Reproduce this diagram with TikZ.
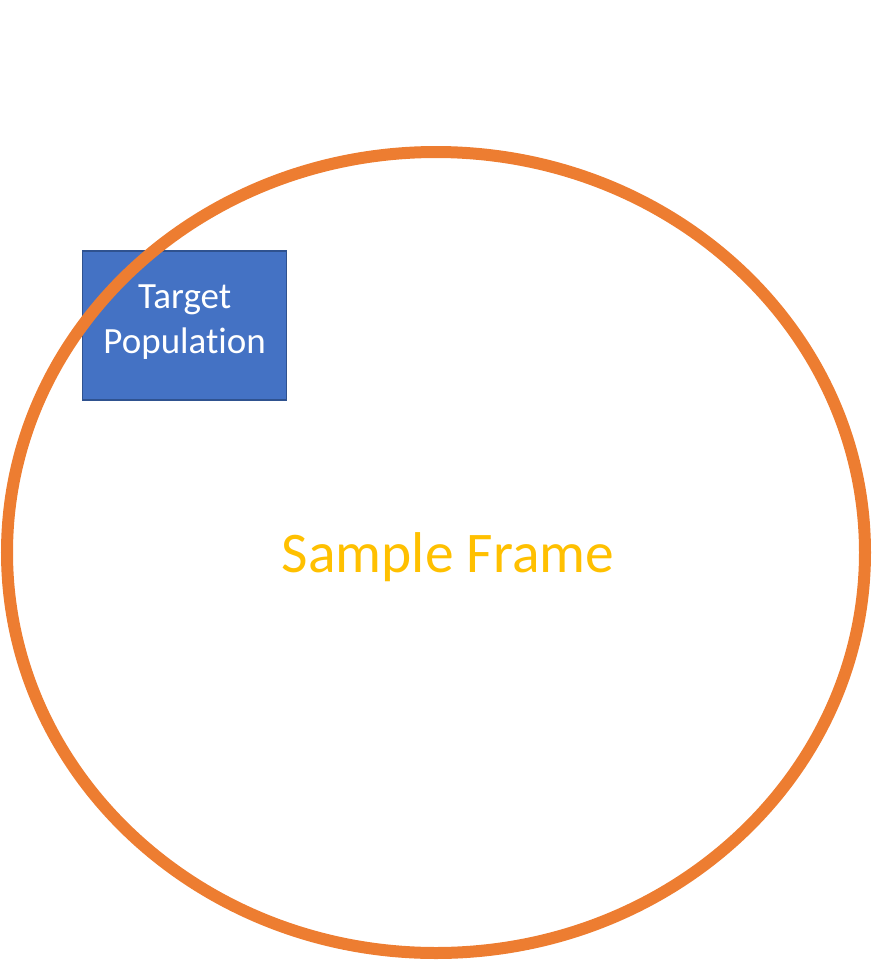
\documentclass[tikz,border=0pt]{standalone}
\usepackage{fontspec}
\setmainfont{Carlito}[Ligatures={NoCommon}]
\definecolor{frameorange}{HTML}{ED7D31}
\definecolor{boxblue}{HTML}{4472C4}
\definecolor{boxedge}{HTML}{2F528F}
\definecolor{labelgold}{HTML}{FFC000}
\begin{document}
\begin{tikzpicture}[x=1pt,y=-1pt,
  popbox/.style={draw=boxedge,line width=1.5pt,fill=boxblue,
    minimum width=204pt,minimum height=149pt,inner sep=0pt},
  poplabel/.style={text=white,align=center,inner sep=0pt,
    font=\fontsize{37}{45}\selectfont},
  framelabel/.style={text=labelgold,font=\fontsize{57.5}{69}\selectfont}]
\useasboundingbox (0,0) rectangle (873,962);

\node[popbox] (target) at (184.7,325.4) {};
\node[poplabel] (targettext) at ([yshift=3pt]target.center) {Target\\Population};

\draw[frameorange,line width=12pt] (436,552.5) ellipse [x radius=429, y radius=400.5];

\node[framelabel] (frame) at (448,557) {Sample Frame};
\end{tikzpicture}
\end{document}
